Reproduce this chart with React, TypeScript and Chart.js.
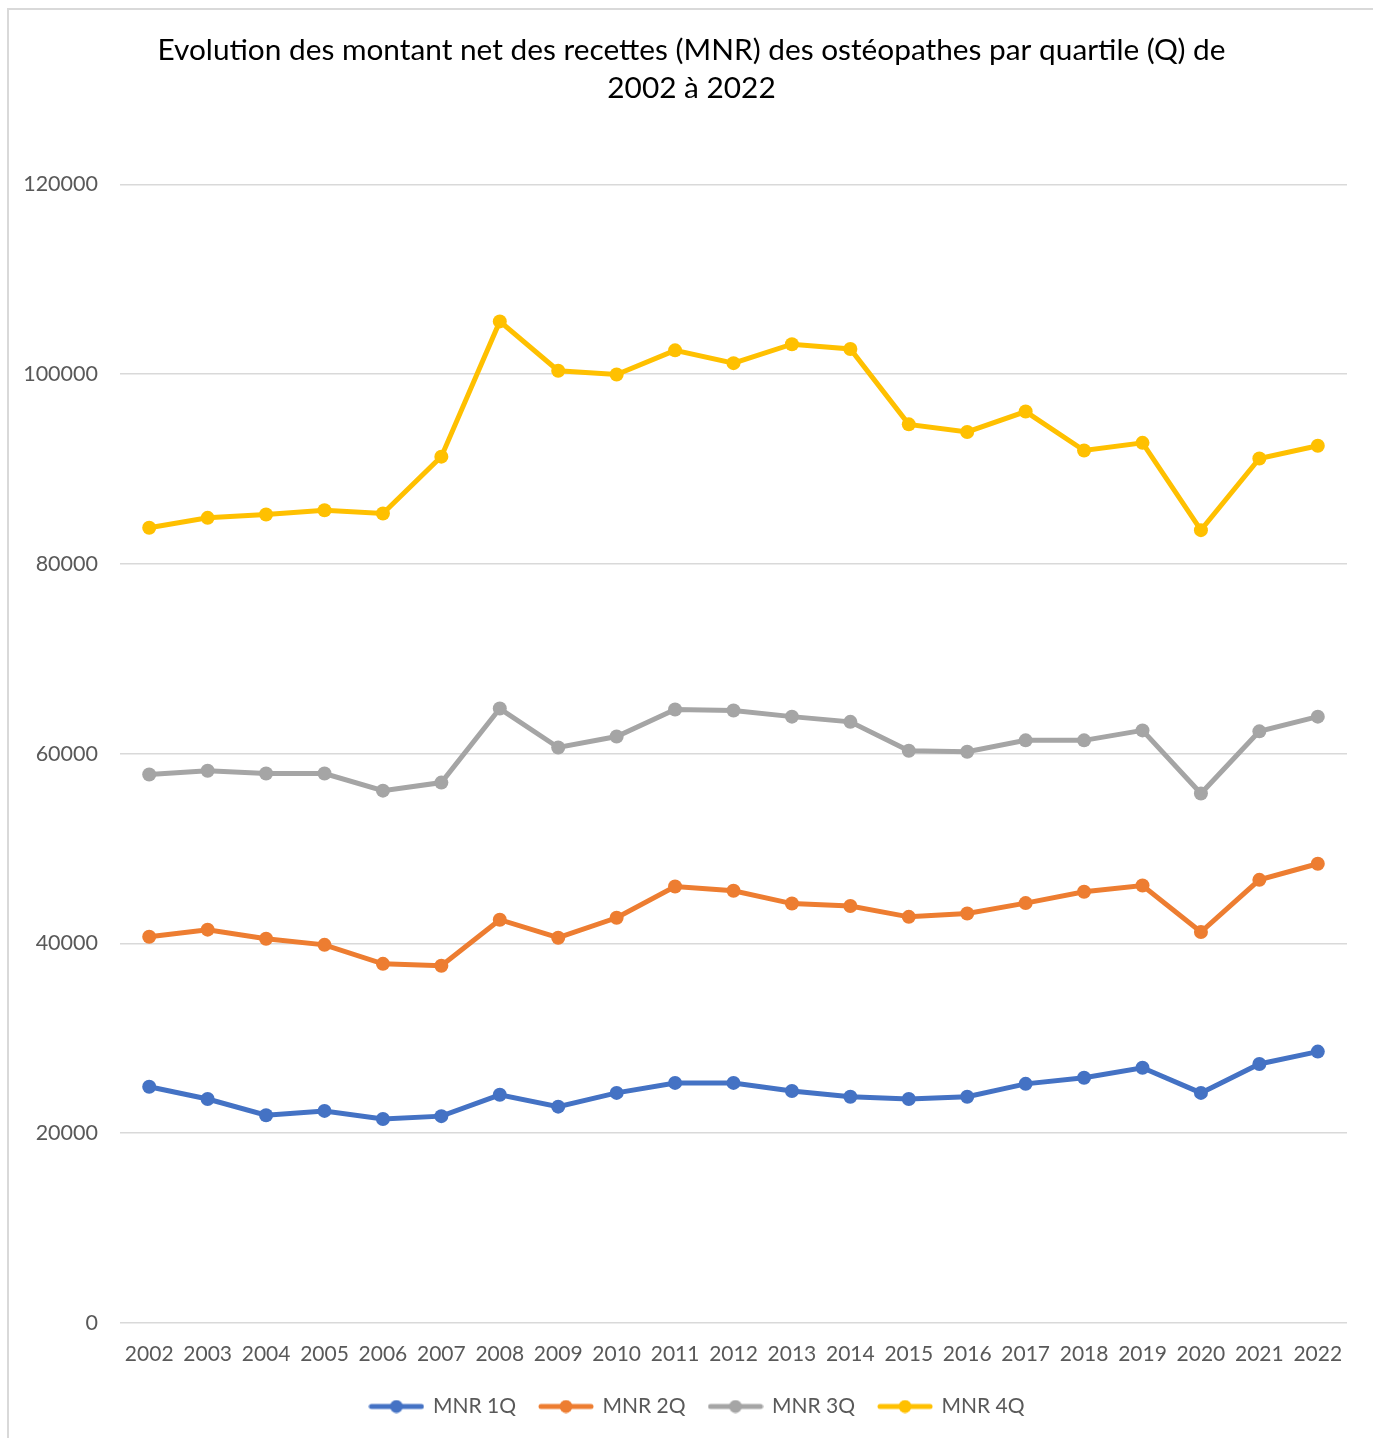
import React, { useEffect, useRef } from "react";
import { Chart, registerables } from "chart.js";

Chart.register(...registerables);

const years = ["2002","2003","2004","2005","2006","2007","2008","2009","2010","2011","2012","2013","2014","2015","2016","2017","2018","2019","2020","2021","2022"];
const mnr1Q = [24900,23600,21900,22350,21500,21800,24050,22800,24250,25300,25300,24450,23850,23600,23850,25200,25850,26900,24250,27300,28600];
const mnr2Q = [40700,41450,40500,39850,37850,37650,42500,40600,42700,46000,45550,44200,43950,42800,43150,44250,45450,46100,41200,46700,48400];
const mnr3Q = [57800,58200,57900,57900,56100,56950,64750,60650,61800,64650,64550,63900,63350,60300,60200,61400,61400,62450,55800,62350,63900];
const mnr4Q = [83800,84850,85200,85650,85300,91300,105550,100350,99950,102500,101150,103150,102650,94700,93900,96050,91950,92750,83550,91100,92450];
const seriesNames = ["MNR 1Q", "MNR 2Q", "MNR 3Q", "MNR 4Q"];
const seriesColors = ["#4472C4", "#ED7D31", "#A5A5A5", "#FFC000"];
const titleLines = ["Evolution des montant net des recettes (MNR) des ostéopathes par quartile (Q) de", "2002 à 2022"];

function makeMarker(color: string): HTMLCanvasElement {
  const c = document.createElement("canvas");
  c.width = 56;
  c.height = 14;
  const ctx = c.getContext("2d")!;
  ctx.strokeStyle = color;
  ctx.lineWidth = 5;
  ctx.lineCap = "round";
  ctx.beginPath();
  ctx.moveTo(3, 7);
  ctx.lineTo(53, 7);
  ctx.stroke();
  ctx.fillStyle = color;
  ctx.beginPath();
  ctx.arc(28, 7, 6.5, 0, Math.PI * 2);
  ctx.fill();
  return c;
}

const boxShift = {
  id: "boxShift",
  afterLayout(chart: any) {
    if (chart.legend) {
      chart.legend.left += 24;
      chart.legend.right += 24;
    }
    if (chart.titleBlock) {
      chart.titleBlock.left += 18;
      chart.titleBlock.right += 18;
    }
  },
};

export default function App() {
  const ref = useRef<HTMLCanvasElement | null>(null);

  useEffect(() => {
    if (!ref.current) return;
    Chart.defaults.font.family = "Lato, 'Open Sans', sans-serif";
    const seriesData = [mnr1Q, mnr2Q, mnr3Q, mnr4Q];
    const markers = seriesColors.map(makeMarker);
    const chart = new Chart(ref.current, {
      type: "line",
      data: {
        labels: years,
        datasets: seriesData.map((d, i) => ({
          label: seriesNames[i],
          data: d,
          borderColor: seriesColors[i],
          backgroundColor: seriesColors[i],
          borderWidth: 5,
          pointRadius: 7,
          pointBorderWidth: 0,
          pointBackgroundColor: seriesColors[i],
          tension: 0,
        })),
      },
      plugins: [boxShift],
      options: {
        animation: false,
        responsive: false,
        devicePixelRatio: 1,
        layout: { padding: { left: 0, right: 26, top: 0, bottom: 11 } },
        plugins: {
          title: {
            display: true,
            text: titleLines,
            color: "#000000",
            font: { size: 29.8, weight: "normal", lineHeight: 1.28 },
            padding: { top: 31, bottom: 77 },
          },
          legend: {
            position: "bottom",
            labels: {
              usePointStyle: true,
              pointStyleWidth: 52,
              padding: 24,
              color: "#595959",
              font: { size: 21 },
              generateLabels: (ch: any) => {
                const items = (Chart.defaults.plugins.legend.labels as any).generateLabels(ch);
                items.forEach((it: any, i: number) => {
                  it.pointStyle = markers[i];
                });
                return items;
              },
            },
          },
          tooltip: { enabled: false },
        },
        scales: {
          x: {
            offset: true,
            grid: { display: false, drawTicks: false },
            border: { display: false },
            ticks: { color: "#595959", font: { size: 21 }, padding: 19, maxRotation: 0, autoSkip: false },
            afterFit: (s: any) => { s.height = 49; },
          },
          y: {
            min: 0,
            max: 120000,
            grid: { color: "#d9d9d9", lineWidth: 1.5, drawTicks: false },
            border: { display: false },
            ticks: {
              stepSize: 20000,
              color: "#595959",
              font: { size: 21.5 },
              padding: 22,
              callback: (v: any) => String(v),
            },
            afterFit: (s: any) => { s.width = 120; },
          },
        },
      },
    });
    return () => chart.destroy();
  }, []);

  return (
    <div style={{ position: "absolute", left: 0, top: 0, width: 1373, height: 1438, background: "#ffffff" }}>
      <canvas ref={ref} width={1373} height={1438} style={{ display: "block" }} />
      <div
        style={{
          position: "absolute",
          left: 7,
          top: 8,
          right: 0,
          bottom: 0,
          borderTop: "2px solid #d9d9d9",
          borderLeft: "2px solid #d9d9d9",
          pointerEvents: "none",
        }}
      />
    </div>
  );
}
